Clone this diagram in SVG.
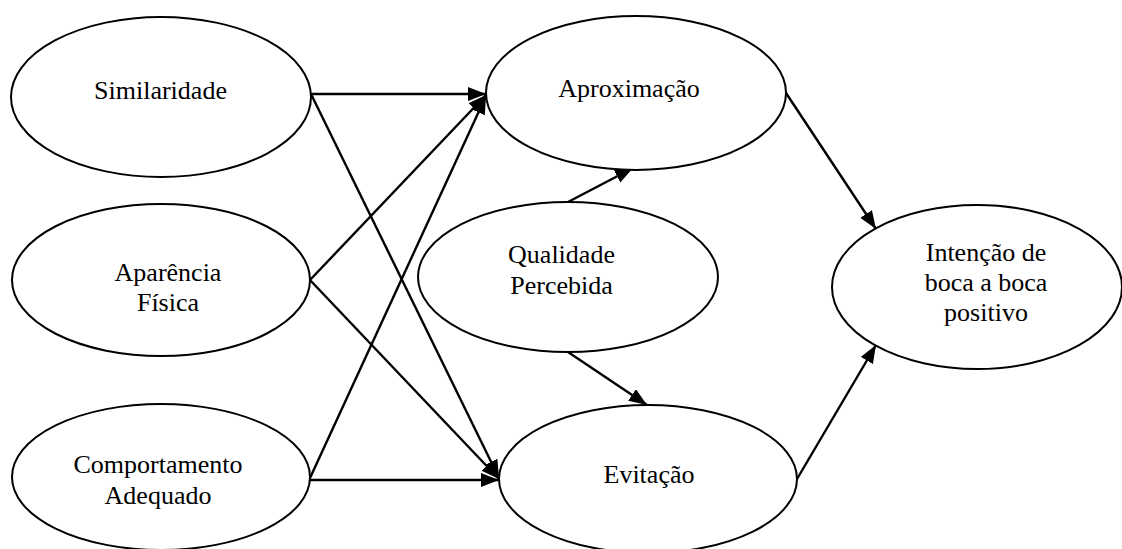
<svg xmlns="http://www.w3.org/2000/svg" width="1122" height="549" viewBox="0 0 1122 549">
  <style>
    .node ellipse { fill: #ffffff; stroke: #000000; stroke-width: 2; }
    .node text { font-family: "Liberation Serif", "Times New Roman", serif; font-size: 26px; fill: #000000; text-anchor: middle; }
    #connectors line { stroke: #000000; stroke-width: 2.4; marker-end: url(#arrow); }
  </style>
  <defs>
    <marker id="arrow" markerUnits="userSpaceOnUse" markerWidth="19" markerHeight="15" refX="18" refY="7" orient="auto">
      <path d="M0,0 L18,7 L0,14 z" fill="#000000"/>
    </marker>
  </defs>
  <rect width="1122" height="549" fill="#ffffff"/>

  <!-- connectors -->
  <g id="connectors">
    <line x1="311" y1="94" x2="486" y2="94"/>
    <line x1="311" y1="94" x2="499" y2="478"/>
    <line x1="310" y1="280" x2="486" y2="95"/>
    <line x1="310" y1="280" x2="499" y2="479"/>
    <line x1="310" y1="478" x2="486" y2="96"/>
    <line x1="310" y1="480" x2="499" y2="480"/>
    <line x1="568" y1="202" x2="633" y2="168"/>
    <line x1="568" y1="352" x2="647" y2="405"/>
    <line x1="786" y1="93" x2="876" y2="229"/>
    <line x1="797" y1="479" x2="876" y2="345"/>
  </g>

  <!-- nodes -->
  <g id="similaridade" class="node">
    <ellipse cx="161" cy="97" rx="150" ry="80"/>
    <text x="160.5" y="99">Similaridade</text>
  </g>
  <g id="aparencia" class="node">
    <ellipse cx="161" cy="280" rx="149" ry="76"/>
    <text x="168" y="281">Aparência</text>
    <text x="168" y="311">Física</text>
  </g>
  <g id="comportamento" class="node">
    <ellipse cx="161" cy="477" rx="149" ry="73"/>
    <text x="158" y="473">Comportamento</text>
    <text x="158" y="504">Adequado</text>
  </g>
  <g id="aproximacao" class="node">
    <ellipse cx="636" cy="93" rx="150" ry="77"/>
    <text x="629" y="97">Aproximação</text>
  </g>
  <g id="qualidade" class="node">
    <ellipse cx="568" cy="277" rx="150" ry="75"/>
    <text x="561.5" y="263">Qualidade</text>
    <text x="561.5" y="294">Percebida</text>
  </g>
  <g id="evitacao" class="node">
    <ellipse cx="648" cy="479" rx="149" ry="74"/>
    <text x="649" y="483">Evitação</text>
  </g>
  <g id="intencao" class="node">
    <ellipse cx="977" cy="287" rx="145" ry="82"/>
    <text x="986" y="261">Intenção de</text>
    <text x="986" y="291">boca a boca</text>
    <text x="986" y="321">positivo</text>
  </g>
</svg>
